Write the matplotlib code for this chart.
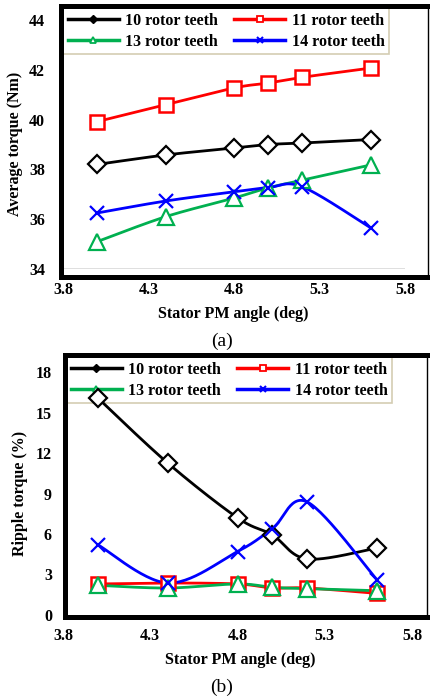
import numpy as np
import matplotlib
matplotlib.use("Agg")
import matplotlib.pyplot as plt
from matplotlib.lines import Line2D

plt.rcParams["font.family"] = ["Liberation Serif", "DejaVu Serif"]

W, H = 430, 700

angle = [4.0, 4.4, 4.8, 5.0, 5.2, 5.6]
labels = ["10 rotor teeth", "11 rotor teeth", "13 rotor teeth", "14 rotor teeth"]

avg_10 = [38.2, 38.58, 38.86, 39.0, 39.06, 39.2]
avg_11 = [39.92, 40.6, 41.27, 41.47, 41.7, 42.07]
avg_13 = [35.1, 36.1, 36.85, 37.26, 37.57, 38.18]
avg_14 = [36.25, 36.73, 37.1, 37.27, 37.3, 35.65]

rip_10 = [16.07, 11.26, 7.2, 5.93, 4.15, 4.96]
rip_11 = [2.3, 2.37, 2.3, 2.0, 2.0, 1.6]
rip_13 = [2.2, 2.0, 2.3, 2.05, 1.95, 1.8]
rip_14 = [5.2, 2.37, 4.7, 6.4, 8.37, 2.6]

x_ticks = [3.8, 4.3, 4.8, 5.3, 5.8]
avg_ticks = [34, 36, 38, 40, 42, 44]
rip_ticks = [0, 3, 6, 9, 12, 15, 18]

COLORS = ["black", "#ff0000", "#00b050", "#0000ff"]
STYLES = [
    dict(marker="D", ms=9, mfc="white", mew=1.6),
    dict(marker="s", ms=10, mfc="white", mew=1.8),
    dict(marker="^", ms=11, mfc="white", mew=1.6),
    dict(marker="x", ms=10, mew=1.6),
]
LEG_STYLES = [
    dict(marker="D", ms=4.5, mfc="black"),
    dict(marker="s", ms=5, mfc="white", mew=1.3),
    dict(marker="^", ms=5, mfc="white", mew=1.3),
    dict(marker="x", ms=5, mew=1.5),
]
# legend fills column by column; this gives rows 10|11 and 13|14
LEG_ORDER = [0, 2, 1, 3]


def fx(px):
    return px / W


def fy(py):
    return 1 - py / H


def smooth(x, y, n=30):
    # Catmull-Rom style Bezier through the points (spreadsheet "smoothed line")
    pts = np.column_stack([x, y]).astype(float)
    P = np.vstack([pts[0], pts, pts[-1]])
    t = np.linspace(0, 1, n)[:, None]
    out = []
    for i in range(len(pts) - 1):
        p0, p1, p2, p3 = P[i], P[i + 1], P[i + 2], P[i + 3]
        c1 = p1 + (p2 - p0) / 6
        c2 = p2 - (p3 - p1) / 6
        seg = (1 - t) ** 3 * p1 + 3 * (1 - t) ** 2 * t * c1 + 3 * (1 - t) * t ** 2 * c2 + t ** 3 * p2
        out.append(seg if i == 0 else seg[1:])
    return np.vstack(out)


def frame(fig, l, t, r, b):
    kw = dict(transform=fig.transFigure, color="black", solid_capstyle="projecting")
    fig.add_artist(Line2D([fx(l), fx(r)], [fy(t), fy(t)], lw=3.6, **kw))
    fig.add_artist(Line2D([fx(l), fx(l)], [fy(t), fy(b)], lw=3.6, **kw))
    fig.add_artist(Line2D([fx(l), fx(r)], [fy(b), fy(b)], lw=3.6, **kw))
    fig.add_artist(Line2D([fx(r), fx(r)], [fy(t), fy(b)], lw=1.0, **kw))


def panel(fig, rect, series, ylim, yticks, ypad, ylabel, ylab_pos, xlab_pos, leg_xy, caption):
    l, t, r, b = rect
    ax = fig.add_axes([fx(l), fy(b), fx(r) - fx(l), fy(t) - fy(b)])
    ax.patch.set_alpha(0)
    for s in ax.spines.values():
        s.set_visible(False)
    for ys, c, st in zip(series, COLORS, STYLES):
        xy = smooth(angle, ys)
        ax.plot(xy[:, 0], xy[:, 1], color=c, lw=2.0, clip_on=False, zorder=3)
        ax.plot(angle, ys, ls="none", color=c, mec=c, clip_on=False, zorder=4, **st)
    ax.set_xlim(3.8, 5.8)
    ax.set_ylim(*ylim)
    ax.set_xticks(x_ticks)
    ax.set_xticklabels([f"{v:.1f}" for v in x_ticks])
    ax.set_yticks(yticks)
    ax.tick_params(length=0, labelsize=11.5)
    ax.tick_params(axis="x", pad=9)
    ax.tick_params(axis="y", pad=ypad)
    for lb in ax.get_xticklabels() + ax.get_yticklabels():
        lb.set_fontweight("bold")

    fig.text(fx(ylab_pos[0]), fy(ylab_pos[1]), ylabel, rotation=90, ha="center",
             va="center", fontsize=11.5, fontweight="bold")
    fig.text(fx(xlab_pos[0]), fy(xlab_pos[1]), "Stator PM angle (deg)", ha="center",
             va="center", fontsize=11.5, fontweight="bold")
    fig.text(fx(222), fy(xlab_pos[1] + 27), caption, ha="center", va="center", fontsize=14)

    handles = [Line2D([], [], color=c, mec=c, lw=2.5, **st) for c, st in zip(COLORS, LEG_STYLES)]
    leg = ax.legend([handles[i] for i in LEG_ORDER], [labels[i] for i in LEG_ORDER],
                    ncol=2, loc="upper left",
                    bbox_to_anchor=(fx(leg_xy[0]), fy(leg_xy[1])), bbox_transform=fig.transFigure,
                    borderaxespad=0, frameon=True, fancybox=False, handlelength=3.2,
                    handletextpad=0.4, columnspacing=1.0, labelspacing=0.3, borderpad=0.3,
                    prop=dict(size=11.5, weight="bold"))
    leg.get_frame().set_edgecolor("#c9c0a0")
    leg.get_frame().set_linewidth(1.2)
    leg.get_frame().set_facecolor("none")
    leg.set_zorder(2)
    return ax


fig = plt.figure(figsize=(W / 100, H / 100), dpi=100)

# (a) average torque
frame(fig, 61, 5.5, 428, 277)
ax_a = panel(fig, (63, 20, 405, 269), [avg_10, avg_11, avg_13, avg_14], (34, 44), avg_ticks, 13,
             "Average torque (Nm)", (15, 144), (233, 314), (63, 8), "(a)")
ax_a.axhline(34, color="#d9d9d9", lw=1.2, xmax=1.0, zorder=1)

# (b) ripple torque
frame(fig, 65, 355, 427, 617)
panel(fig, (63, 372, 412, 615), [rip_10, rip_11, rip_13, rip_14], (0, 18), rip_ticks, 8,
      "Ripple torque (%)", (20, 493), (240, 660), (66, 357), "(b)")

fig.savefig("out.png", dpi=100)
